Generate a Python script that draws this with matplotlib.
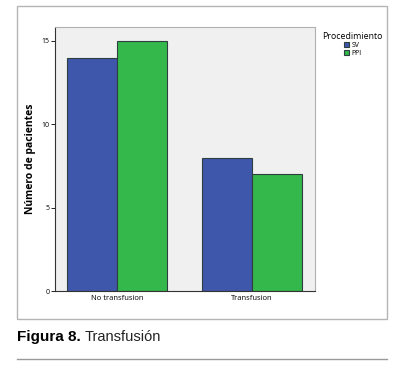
import matplotlib
matplotlib.use("Agg")
import matplotlib.pyplot as plt
import numpy as np
from matplotlib.patches import Rectangle
from matplotlib.lines import Line2D
from matplotlib import font_manager

categories = ["No transfusion", "Transfusion"]
series_names = ["SV", "PPI"]
sv_values = [14, 8]
ppi_values = [15, 7]
y_ticks = [0, 5, 10, 15]

colors = ["#3f57ab", "#34b74b"]
W, H = 400, 369
fig = plt.figure(figsize=(W/100, H/100), dpi=100)

# outer frame
fig.patches.append(Rectangle((17/W, 1-319/H), (387-17)/W, (319-6)/H, transform=fig.transFigure,
                             fill=False, edgecolor="#b4b4b4", linewidth=1.0))
fig.lines.append(Line2D([17/W, 387/W], [1-359/H, 1-359/H], transform=fig.transFigure,
                        color="#9a9a9a", linewidth=1.0))

ax = fig.add_axes([55/W, 1-291/H, (315-55)/W, (291-27)/H])
ax.set_facecolor("#f0f0f0")
x = np.arange(len(categories))
bw = 0.37
ax.bar(x - bw/2, sv_values, bw, color=colors[0], edgecolor="#2f3f3f", linewidth=0.8, label=series_names[0])
ax.bar(x + bw/2, ppi_values, bw, color=colors[1], edgecolor="#2f3f3f", linewidth=0.8, label=series_names[1])
ax.set_xlim(-0.459, 1.467)
ax.set_ylim(0, 15.84)
ax.set_yticks(y_ticks)
ax.set_yticklabels([str(v) for v in y_ticks], fontsize=5, family="Open Sans")
ax.set_xticks(x)
ax.set_xticklabels(categories, fontsize=5.5, family="Open Sans")
ax.tick_params(axis="y", length=3, width=0.6, pad=1)
ax.tick_params(axis="x", length=0, pad=3)
for s in ["top", "right"]:
    ax.spines[s].set_color("#b0b0b0")
    ax.spines[s].set_linewidth(0.8)
for s in ["left", "bottom"]:
    ax.spines[s].set_color("#333333")
    ax.spines[s].set_linewidth(0.8)
ax.set_ylabel("Número de pacientes", fontsize=7.5, fontweight="bold", family="Open Sans", labelpad=4)

leg = fig.legend(loc="upper left", bbox_to_anchor=(319/W, 1-29/H), title="Procedimiento",
                 frameon=False, prop={"family": "Open Sans", "size": 5},
                 title_fontproperties={"family": "Open Sans", "size": 6.3},
                 handlelength=0.8, handleheight=0.8, handletextpad=0.3, labelspacing=0.1,
                 borderpad=0, alignment="center")

t1 = fig.text(17/W, 1-337/H, "Figura 8.", fontsize=11, fontweight="bold",
              family=["Liberation Sans Narrow", "Liberation Sans"], va="center", ha="left",
              fontstretch="condensed")
fig.canvas.draw()
bb = t1.get_window_extent()
x_end = bb.x1 / fig.dpi / fig.get_figwidth()
fig.text(x_end + 4/W, 1-337/H, "Transfusión", fontsize=10.5, family=["Liberation Sans", "DejaVu Sans"],
         va="center", ha="left", color="#222222")

fig.savefig("out.png", dpi=100)
